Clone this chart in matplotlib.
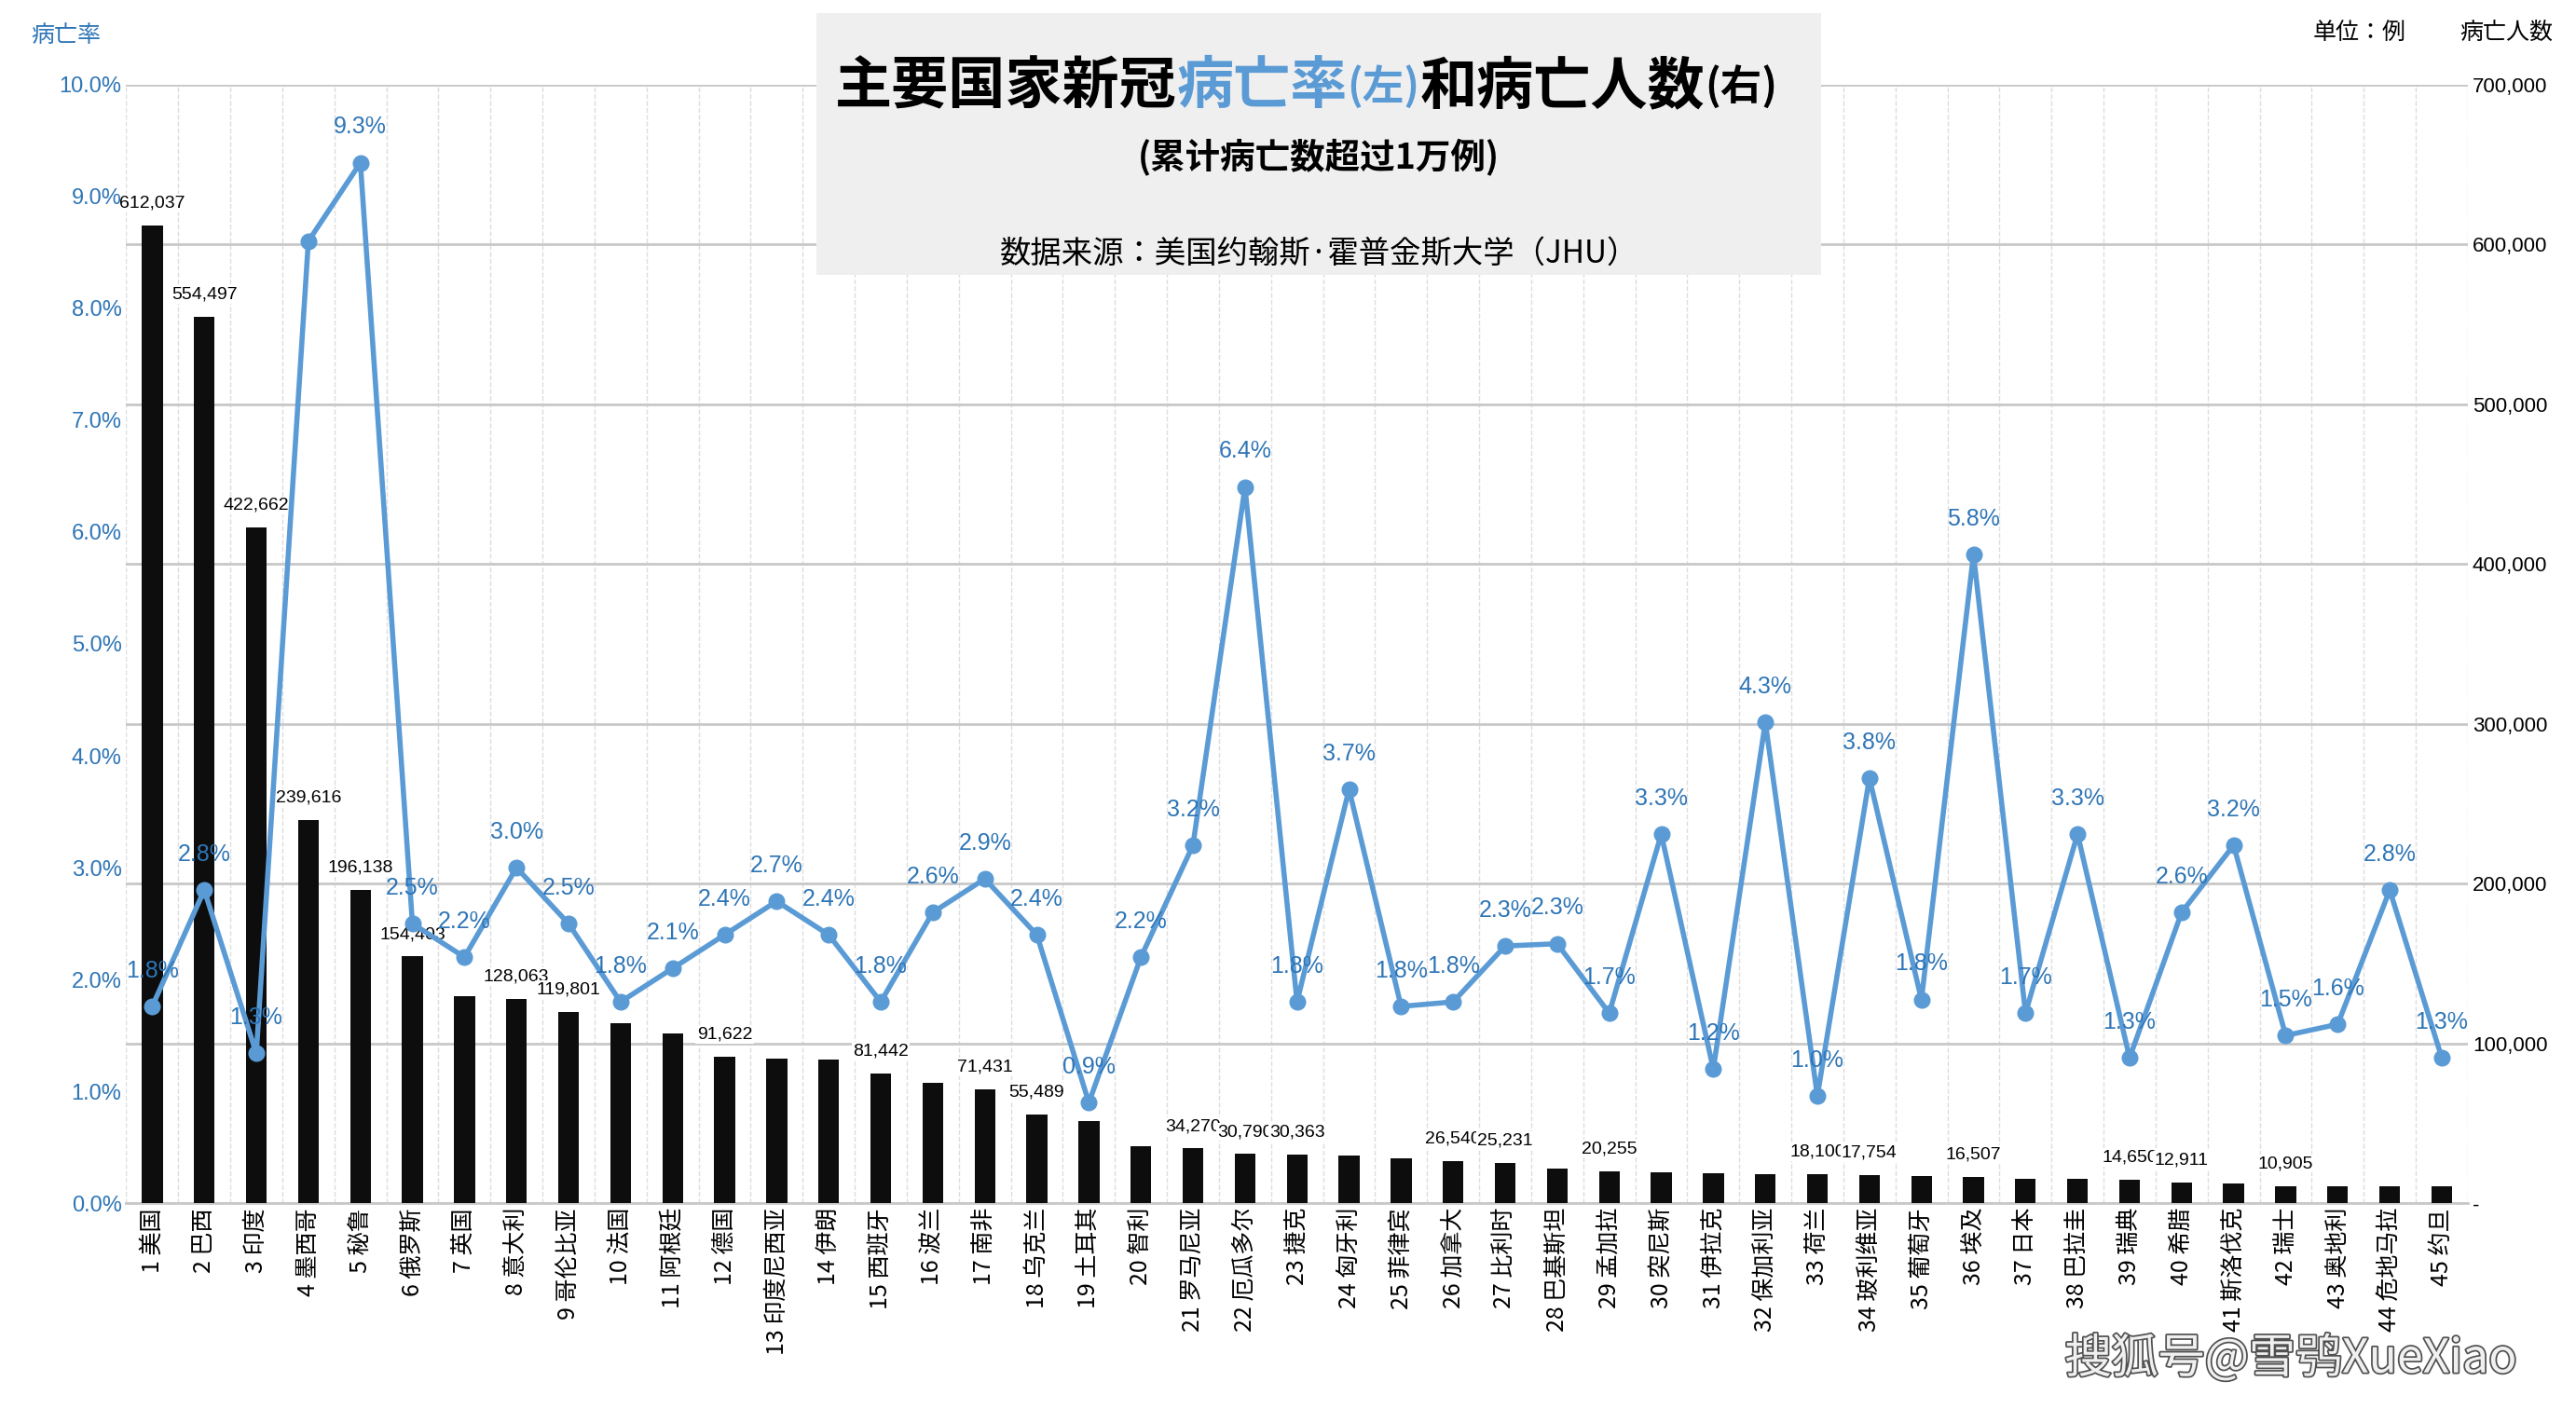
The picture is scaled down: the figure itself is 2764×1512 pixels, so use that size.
import matplotlib.pyplot as plt
import matplotlib.patheffects as pe
from matplotlib import font_manager
import numpy as np
from matplotlib.patches import Rectangle

cjk = [f.name for f in font_manager.fontManager.ttflist if 'CJK' in f.name]
cjk_name = 'Noto Sans CJK SC' if 'Noto Sans CJK SC' in cjk else (cjk[0] if cjk else 'DejaVu Sans')
plt.rcParams['font.family'] = 'sans-serif'
plt.rcParams['font.sans-serif'] = [cjk_name, 'DejaVu Sans']

countries = ['美国', '巴西', '印度', '墨西哥', '秘鲁', '俄罗斯', '英国', '意大利', '哥伦比亚', '法国',
             '阿根廷', '德国', '印度尼西亚', '伊朗', '西班牙', '波兰', '南非', '乌克兰', '土耳其', '智利',
             '罗马尼亚', '厄瓜多尔', '捷克', '匈牙利', '菲律宾', '加拿大', '比利时', '巴基斯坦', '孟加拉', '突尼斯',
             '伊拉克', '保加利亚', '荷兰', '玻利维亚', '葡萄牙', '埃及', '日本', '巴拉圭', '瑞典', '希腊',
             '斯洛伐克', '瑞士', '奥地利', '危地马拉', '约旦']
deaths = [612037, 554497, 422662, 239616, 196138, 154403, 129500, 128063, 119801, 112600,
          106500, 91622, 90500, 89800, 81442, 75500, 71431, 55489, 51500, 36000,
          34270, 30790, 30363, 30100, 28000, 26540, 25231, 21500, 20255, 19600,
          18600, 18400, 18100, 17754, 17300, 16507, 15300, 15100, 14650, 12911,
          12600, 10905, 10700, 10500, 10400]
rates = [1.76, 2.8, 1.34, 8.6, 9.3, 2.5, 2.2, 3.0, 2.5, 1.8,
         2.1, 2.4, 2.7, 2.4, 1.8, 2.6, 2.9, 2.4, 0.9, 2.2,
         3.2, 6.4, 1.8, 3.7, 1.76, 1.8, 2.3, 2.32, 1.7, 3.3,
         1.2, 4.3, 0.96, 3.8, 1.82, 5.8, 1.7, 3.3, 1.3, 2.6,
         3.2, 1.5, 1.6, 2.8, 1.3]
labeled = [1, 2, 3, 4, 5, 6, 8, 9, 12, 15, 17, 18, 21, 22, 23, 26, 27, 29, 33, 34, 36, 39, 40, 42]

blue = '#5B9BD5'
dblue = '#2E75B6'
x = np.arange(len(countries))

fig = plt.figure(figsize=(27.64, 15.12), dpi=100)
ax = fig.add_axes([0.049, 0.146, 0.909, 0.794])
ax2 = ax.twinx()

# bars on right axis
ax.bar(x, deaths, width=0.4, color='#0d0d0d', zorder=3)
ax.set_ylim(0, 700000)
ax.set_xlim(-0.5, len(x) - 0.5)
ax.yaxis.tick_right()
ax.set_yticks(np.arange(0, 700001, 100000))
ax.set_yticklabels(['-'] + [f'{v:,}' for v in range(100000, 700001, 100000)], fontsize=16,
                   family='Liberation Sans')
ax.grid(axis='y', color='#c8c8c8', lw=2, zorder=0)
for i in range(len(x) + 1):
    ax.axvline(i - 0.5, color='#dddddd', lw=1, ls='--', zorder=0)
for i in labeled:
    ax.text(i - 1, deaths[i - 1] + 9000, f'{deaths[i - 1]:,}', ha='center', va='bottom', fontsize=14,
            family='Liberation Sans', zorder=4,
            bbox=dict(facecolor='white', edgecolor='none', pad=1))
ax.set_xticks(x)
ax.set_xticklabels([f'{i + 1} {c}' for i, c in enumerate(countries)], rotation=90, fontsize=18)
ax.tick_params(axis='x', length=0)
ax.tick_params(axis='y', length=0)
for s in ['top', 'left', 'right']:
    ax.spines[s].set_visible(False)
ax.spines['bottom'].set_color('#c8c8c8')
ax.spines['bottom'].set_linewidth(2)

# rate line on left axis
ax2.plot(x, rates, color=blue, lw=4, marker='o', ms=12, zorder=5)
ax2.set_ylim(0, 10)
ax2.yaxis.tick_left()
ax2.set_yticks(np.arange(0, 10.1, 1))
ax2.set_yticklabels([f'{v:.1f}%' for v in range(11)], fontsize=17, color=dblue, family='Liberation Sans')
ax2.tick_params(axis='y', length=0)
for s in ax2.spines.values():
    s.set_visible(False)
for i, r in enumerate(rates):
    if i == 3:
        continue
    ax2.text(i, r + 0.22, f'{r:.1f}%', ha='center', va='bottom', fontsize=18, color=dblue,
             family='Liberation Sans', zorder=6)

fig.text(0.012, 0.975, '病亡率', fontsize=18, color=dblue, va='center')
fig.text(0.898, 0.977, '单位：例', fontsize=18, va='center')
fig.text(0.955, 0.977, '病亡人数', fontsize=18, va='center')

fig.patches.append(Rectangle((0.317, 0.805), 0.39, 0.186, transform=fig.transFigure,
                             facecolor='#efefef', edgecolor='none', zorder=10))

# title pieces placed one after another
pieces = [('主要国家新冠', 'black', 44), ('病亡率', blue, 44), ('(左)', blue, 32),
          ('和病亡人数', 'black', 44), ('(右)', 'black', 32)]
renderer = fig.canvas.get_renderer()
xpos = 0.324
for txt, col, fs in pieces:
    t = fig.text(xpos, 0.938, txt, fontsize=fs, weight='bold', color=col, ha='left',
                 va='center', zorder=11)
    bb = t.get_window_extent(renderer)
    xpos += bb.width / fig.bbox.width
fig.text(0.512, 0.889, '(累计病亡数超过1万例)', fontsize=27, weight='bold', ha='center', va='center', zorder=11)
fig.text(0.512, 0.82, '数据来源：美国约翰斯·霍普金斯大学（JHU）', fontsize=24, ha='center', va='center', zorder=11)

fig.text(0.977, 0.018, '搜狐号@雪鸮XueXiao', fontsize=36, color='#f0f0f0', ha='right', va='bottom',
         path_effects=[pe.withStroke(linewidth=2.5, foreground='#505050')])

fig.savefig('out.png', dpi=100)
